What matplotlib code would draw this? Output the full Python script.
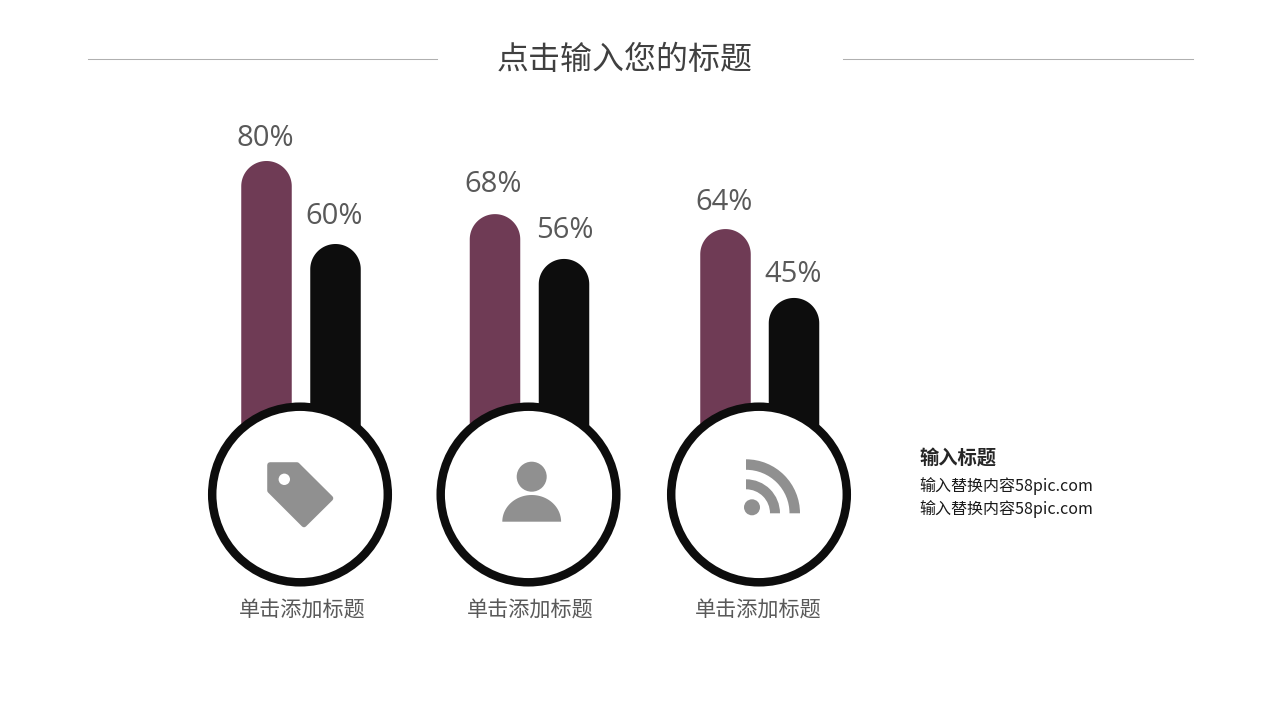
import numpy as np
import matplotlib
matplotlib.use("Agg")
import matplotlib.pyplot as plt
from matplotlib.patches import Circle, Polygon, Wedge

plt.rcParams['font.family'] = ['Noto Sans CJK SC', 'DejaVu Sans']

# Data
title = "点击输入您的标题"
group_labels = ["单击添加标题", "单击添加标题", "单击添加标题"]
purple_labels = ["80%", "68%", "64%"]
black_labels = ["60%", "56%", "45%"]
# drawn bar heights (they do not follow the printed labels exactly)
purple_heights = [80, 67.2, 63.6]
black_heights = [60, 56.4, 47]

side_title = "输入标题"
side_lines = ["输入替换内容58pic.com", "输入替换内容58pic.com"]

# Layout, in pixels of the 1280x720 slide
purple_x = [266.5, 495, 725.5]
black_x = [335.5, 564, 794]
circle_x = [300, 528.5, 759]
purple_label_pos = [(265.5, 135), (493.5, 182), (724.5, 200)]
black_label_pos = [(334.5, 214), (565, 227), (793.5, 271)]
bar_w = 50.5
px_per_unit = 4.15
base_px = 493

PURPLE = "#6f3b55"
BLACK = "#0d0d0d"
ICON = "#909090"

fig = plt.figure(figsize=(12.8, 7.2), dpi=100, facecolor="white")

# Bars live on their own axes: x in pixels, y in percent
ax_bars = fig.add_axes([0, 0, 1, 1])
ax_bars.set_xlim(0, 1280)
ax_bars.set_ylim((base_px - 720) / px_per_unit, base_px / px_per_unit)
ax_bars.axis("off")

# one outline per bar so the round cap has no seam
r_y = (bar_w / 2) / px_per_unit
cap = np.linspace(np.pi, 0, 60)
for xs, heights, color in [(purple_x, purple_heights, PURPLE), (black_x, black_heights, BLACK)]:
    for x, h in zip(xs, heights):
        bx = np.concatenate([[x - bar_w / 2], x + bar_w / 2 * np.cos(cap), [x + bar_w / 2]])
        by = np.concatenate([[0], h - r_y + r_y * np.sin(cap), [0]])
        ax_bars.fill(bx, by, color=color, linewidth=0)

# Everything else on a pixel axes on top
ax = fig.add_axes([0, 0, 1, 1])
ax.set_xlim(0, 1280)
ax.set_ylim(720, 0)
ax.axis("off")
ax.patch.set_alpha(0)

# Title and rules
ax.plot([88, 437], [59, 59], color="#b0b0b0", lw=0.75)
ax.plot([843, 1193], [59, 59], color="#b0b0b0", lw=0.75)
ax.text(624.5, 59.5, title, fontsize=23, color="#404040", ha="center", va="center")

# Rings
for cx in circle_x:
    ax.add_patch(Circle((cx, 494.5), 87.8, facecolor="white", edgecolor=BLACK, linewidth=6.1))

# Tag icon
ax.add_patch(Polygon([(270, 465), (297, 465), (330.5, 498.3), (304, 524.5), (270, 490.5)],
                     closed=True, facecolor=ICON, edgecolor=ICON, linewidth=4, joinstyle="round"))
ax.add_patch(Circle((284.3, 479.3), 5.7, facecolor="white", linewidth=0))

# Person icon
ax.add_patch(Circle((531.7, 476.7), 15, facecolor=ICON, linewidth=0))
t = np.linspace(np.pi, 2 * np.pi, 60)
ax.add_patch(Polygon(np.column_stack([531.7 + 29.4 * np.cos(t), 521.7 + 26.7 * np.sin(t)]),
                     closed=True, facecolor=ICON, linewidth=0))

# Feed icon
ax.add_patch(Circle((752, 507.3), 8, facecolor=ICON, linewidth=0))
ax.add_patch(Wedge((746, 513.3), 54, 270, 360, width=10.5, facecolor=ICON, linewidth=0))
ax.add_patch(Wedge((746, 513.3), 34, 270, 360, width=10, facecolor=ICON, linewidth=0))

# Percent labels
for (x, y), s in zip(purple_label_pos + black_label_pos, purple_labels + black_labels):
    ax.text(x, y + 3, s, fontsize=21, family=["Open Sans", "DejaVu Sans"], color="#595959",
            ha="center", va="center")

# Group labels
for cx, s in zip([302, 530, 758], group_labels):
    ax.text(cx, 611, s, fontsize=15.2, color="#595959", ha="center", va="center")

# Side note
ax.text(919.5, 458, side_title, fontsize=13.9, fontweight="bold", color="#262626", ha="left", va="center")
for y, s in zip([487, 510], side_lines):
    ax.text(919.5, y - 0.5, s, fontsize=11.55, color="#1a1a1a", ha="left", va="center")

fig.savefig("out.png", dpi=100)
